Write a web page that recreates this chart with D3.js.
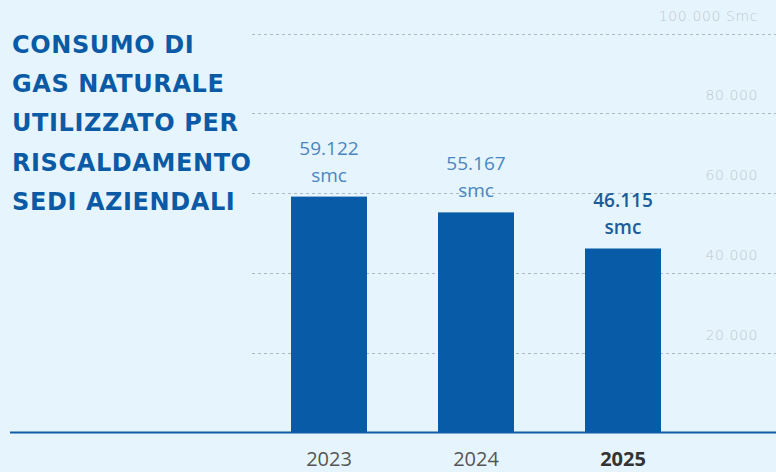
<!DOCTYPE html>
<html><head><meta charset="utf-8">
<script src="https://cdn.jsdelivr.net/npm/d3@7"></script>
<style>
html,body{margin:0;padding:0;background:#e6f5fd;}
svg{display:block;}
</style></head>
<body>
<script>
const years = ["2023", "2024", "2025"];
const values = [59122, 55167, 46115];
const valueLabels = ["59.122", "55.167", "46.115"];
const unitLabel = "smc";
const tickValues = [20000, 40000, 60000, 80000, 100000];
const tickLabels = ["20.000", "40.000", "60.000", "80.000", "100.000 Smc"];
const titleLines = ["CONSUMO DI", "GAS NATURALE", "UTILIZZATO PER", "RISCALDAMENTO", "SEDI AZIENDALI"];
const highlightYear = "2025";

const W = 776, H = 472;
const svg = d3.select("body").append("svg").attr("width", W).attr("height", H);
svg.append("rect").attr("width", W).attr("height", H).attr("fill", "#e6f5fd");

const y = d3.scaleLinear().domain([0, 100000]).range([432.5, 33.5]);
const x = d3.scaleBand().domain(years).range([255.5, 696.5]).paddingInner(0.483).paddingOuter(0.2415);

// gridlines
const grid = svg.append("g");
grid.selectAll("line").data(tickValues).join("line")
  .attr("x1", 252).attr("x2", W)
  .attr("y1", d => Math.round(y(d)) + 0.5).attr("y2", d => Math.round(y(d)) + 0.5)
  .attr("stroke", "#aeb9c0").attr("stroke-width", 1).attr("stroke-dasharray", "3,3");
grid.selectAll("text").data(tickValues).join("text")
  .attr("x", 758).attr("y", d => y(d) - 13)
  .attr("text-anchor", "end")
  .attr("font-family", "DejaVu Sans").attr("font-weight", 200)
  .attr("font-size", 14).attr("letter-spacing", 0.6)
  .attr("fill", "#bec7cd")
  .text((d, i) => tickLabels[i]);

// bars
svg.append("g").selectAll("rect").data(years).join("rect")
  .attr("x", d => x(d)).attr("width", x.bandwidth())
  .attr("y", (d, i) => y(values[i])).attr("height", (d, i) => y(0) - y(values[i]))
  .attr("fill", "#075ba7");

// baseline
svg.append("line").attr("x1", 10).attr("x2", W).attr("y1", 432.5).attr("y2", 432.5)
  .attr("stroke", "#0d5ca6").attr("stroke-width", 2);

// value labels
const vl = svg.append("g");
years.forEach((yr, i) => {
  const hi = yr === highlightYear;
  const cx = x(yr) + x.bandwidth() / 2;
  const top = y(values[i]);
  const t = vl.append("text").attr("text-anchor", "middle")
    .attr("font-family", "Open Sans").attr("font-size", 19)
    .attr("font-weight", hi ? 600 : 400)
    .attr("fill", hi ? "#1b5c9c" : "#4a85bf");
  t.append("tspan").attr("x", cx).attr("y", top - 42).text(valueLabels[i]);
  t.append("tspan").attr("x", cx).attr("y", top - 15).text(unitLabel);
});

// x labels
svg.append("g").selectAll("text").data(years).join("text")
  .attr("x", d => x(d) + x.bandwidth() / 2).attr("y", 466)
  .attr("text-anchor", "middle")
  .attr("font-family", "Open Sans").attr("font-size", 20)
  .attr("font-weight", d => d === highlightYear ? 700 : 400)
  .attr("fill", d => d === highlightYear ? "#333" : "#555")
  .text(d => d);

// title
svg.append("g").selectAll("text").data(titleLines).join("text")
  .attr("x", 12).attr("y", (d, i) => 52.5 + i * 39.4)
  .attr("font-family", "DejaVu Sans").attr("font-weight", 700).attr("font-size", 24)
  .attr("letter-spacing", 0.6)
  .attr("fill", "#0b5aa5")
  .text(d => d);
</script>
</body></html>
